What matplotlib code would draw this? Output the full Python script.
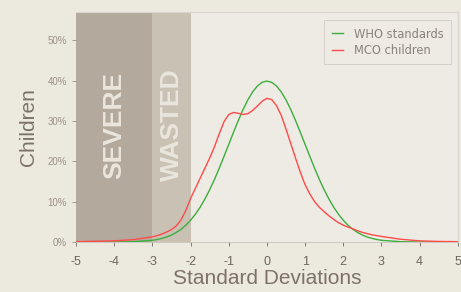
import matplotlib.pyplot as plt

# values (percent of children per SD)
sd = [-5, -4.5, -4, -3.5,
      -3, -2.875, -2.75, -2.625, -2.5, -2.375, -2.25, -2.125,
      -2, -1.875, -1.75, -1.625, -1.5, -1.375, -1.25, -1.125,
      -1, -0.875, -0.75, -0.625, -0.5, -0.375, -0.25, -0.125,
      0, 0.125, 0.25, 0.375, 0.5, 0.625, 0.75, 0.875,
      1, 1.125, 1.25, 1.375, 1.5, 1.625, 1.75, 1.875,
      2, 2.125, 2.25, 2.375, 2.5, 2.625, 2.75, 2.875,
      3, 3.5, 4, 4.5, 5]
who = [0, 0, 0.01, 0.09,
       0.44, 0.64, 0.91, 1.27, 1.75, 2.38, 3.17, 4.17,
       5.40, 6.90, 8.63, 10.66, 12.95, 15.49, 18.26, 21.21,
       24.20, 27.19, 30.11, 32.82, 35.21, 37.19, 38.67, 39.58,
       39.89, 39.58, 38.67, 37.19, 35.21, 32.82, 30.11, 27.19,
       24.20, 21.21, 18.26, 15.49, 12.95, 10.66, 8.63, 6.90,
       5.40, 4.17, 3.17, 2.38, 1.75, 1.27, 0.91, 0.64,
       0.44, 0.09, 0.01, 0, 0]
mco = [0.1, 0.2, 0.3, 0.6,
       1.3, 1.6, 2.0, 2.5, 3.1, 4.0, 5.5, 7.8,
       10.8, 13.3, 15.8, 18.3, 20.8, 23.6, 26.8, 29.8,
       31.6, 32.1, 31.9, 31.6, 31.8, 32.6, 33.7, 34.9,
       35.6, 35.3, 33.8, 31.4, 28.0, 24.4, 20.8, 17.3,
       14.2, 11.9, 10.0, 8.6, 7.5, 6.5, 5.6, 4.8,
       4.2, 3.7, 3.3, 2.8, 2.4, 2.1, 1.8, 1.6,
       1.4, 0.7, 0.3, 0.15, 0.1]

xticks = [-5, -4, -3, -2, -1, 0, 1, 2, 3, 4, 5]
yticks = [0, 10, 20, 30, 40, 50]

bg = '#ECE9DF'
grey = '#7D726A'
plt.rcParams['font.family'] = ['Liberation Sans', 'DejaVu Sans']

fig = plt.figure(figsize=(4.61, 2.92), dpi=100, facecolor=bg)
ax = fig.add_axes([0.165, 0.171, 0.828, 0.788], facecolor='#EDEBE3')

ax.axvspan(-5, -3, color='#B3A99C', lw=0)
ax.axvspan(-3, -2, color='#C9C1B4', lw=0)
ax.text(-4, 29, 'SEVERE', rotation=90, ha='center', va='center',
        fontsize=19, fontweight='bold', color='#EAE6DE')
ax.text(-2.5, 29, 'WASTED', rotation=90, ha='center', va='center',
        fontsize=19, fontweight='bold', color='#EAE6DE')

ax.plot(sd, who, color='#3DAE3D', lw=1, label='WHO standards')
ax.plot(sd, mco, color='#FF4A4A', lw=1, label='MCO children')

ax.set_xlim(-5, 5)
ax.set_ylim(0, 57)
ax.set_xticks(xticks)
ax.set_xticklabels([str(t) for t in xticks])
ax.set_yticks(yticks)
ax.set_yticklabels([f'{t}%' for t in yticks])
ax.tick_params(axis='x', colors='#6E655E', labelsize=9, length=3, width=0.6, pad=7)
ax.tick_params(axis='y', colors='#9A918A', labelsize=7, length=3, width=0.6)

for s in ['top', 'right']:
    ax.spines[s].set_color('#DAD6CD')
    ax.spines[s].set_linewidth(0.8)
ax.spines['left'].set_visible(False)
ax.spines['bottom'].set_color('#C8C3BA')
ax.spines['bottom'].set_linewidth(0.6)

ax.set_xlabel('Standard Deviations', fontsize=15, color=grey, labelpad=1)
ax.set_ylabel('Children', fontsize=15, color=grey, labelpad=7)

leg = ax.legend(loc='upper right', frameon=True, fancybox=False,
                prop={'family': 'DejaVu Sans', 'size': 8.3},
                handlelength=1.0, handletextpad=0.9, borderpad=0.65,
                labelspacing=0.3, borderaxespad=0,
                bbox_to_anchor=(0.982, 0.965))
leg.get_frame().set_facecolor('#EDEBE3')
leg.get_frame().set_edgecolor('#CFCAC1')
leg.get_frame().set_linewidth(0.7)
for t in leg.get_texts():
    t.set_color('#8A827B')

fig.savefig('out.png', dpi=100, facecolor=bg)
